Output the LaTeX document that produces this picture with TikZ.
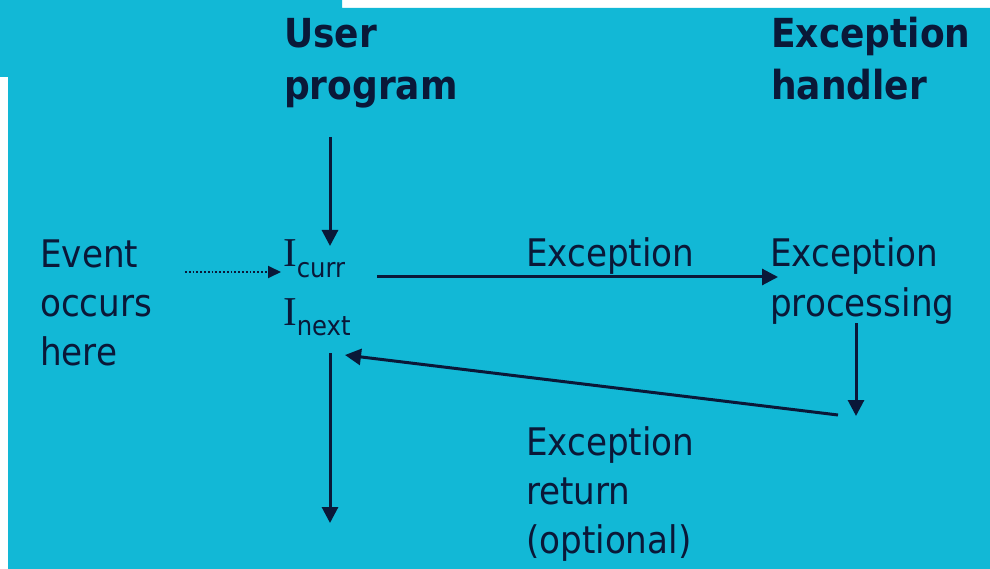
\documentclass[tikz,border=0pt]{standalone}
\usepackage{fontspec}
\setmainfont{DejaVu Sans Condensed}[BoldFont={DejaVu Sans Condensed Bold}]
\newfontfamily\serifI{Liberation Serif}
\usetikzlibrary{arrows.meta}
\definecolor{bgcyan}{RGB}{18,184,214}
\definecolor{ink}{RGB}{10,24,56}
\begin{document}
\begin{tikzpicture}[x=1pt,y=-1pt,
  lbl/.style={inner sep=0pt,anchor=base west,text=ink,align=left,font=\fontsize{38}{49}\selectfont},
  ttl/.style={inner sep=0pt,anchor=base west,text=ink,align=left,font=\bfseries\fontsize{40}{52}\selectfont},
  arr/.style={draw=ink,line width=3pt,-{Triangle[length=16pt,width=16pt]}},
  dotarr/.style={draw=ink,line width=1.8pt,dotted,-{Triangle[length=13pt,width=12pt]}}]
\useasboundingbox (0,0) rectangle (990,569);
\fill[white] (0,0) rectangle (990,569);
\fill[bgcyan] (0,0) -- (342,0) -- (342,8) -- (990,8) -- (990,569) -- (8,569) -- (8,77) -- (0,77) -- cycle;
% titles (anchored at the baseline of the last line)
\node[ttl] (up) at (284,100) {User\\program};
\node[ttl] (eh) at (771,100) {Exception\\handler};
% labels
\node[lbl] (ev) at (40,365) {Event\\occurs\\here};
\node[lbl] (exl) at (526,267) {Exception};
\node[lbl] (ep) at (770,316) {Exception\\processing};
\node[lbl] (er) at (526,553) {Exception\\return\\(optional)};
\node[inner sep=0pt,anchor=base west,text=ink] (icurr) at (283,267)
  {{\serifI\fontsize{41}{41}\selectfont I}\raisebox{-11pt}{\fontsize{27}{27}\selectfont curr}};
\node[inner sep=0pt,anchor=base west,text=ink] (inext) at (283,325)
  {{\serifI\fontsize{41}{41}\selectfont I}\raisebox{-10pt}{\fontsize{27}{27}\selectfont next}};
% connector end points
\coordinate (topin) at (330,137);
\coordinate (curtop) at (330,246);
\coordinate (dotst) at (185,272);
\coordinate (dotend) at (281,272);
\coordinate (exst) at (377,277);
\coordinate (exend) at (778,277);
\coordinate (pst) at (856,323);
\coordinate (pend) at (856,416);
\coordinate (rst) at (838,415);
\coordinate (rend) at (345,355);
\coordinate (nxst) at (330,353);
\coordinate (nxend) at (330,523);
\draw[arr] (topin) -- (curtop);
\draw[dotarr] (dotst) -- (dotend);
\draw[arr] (exst) -- (exend);
\draw[arr] (pst) -- (pend);
\draw[arr] (rst) -- (rend);
\draw[arr] (nxst) -- (nxend);
\end{tikzpicture}
\end{document}
